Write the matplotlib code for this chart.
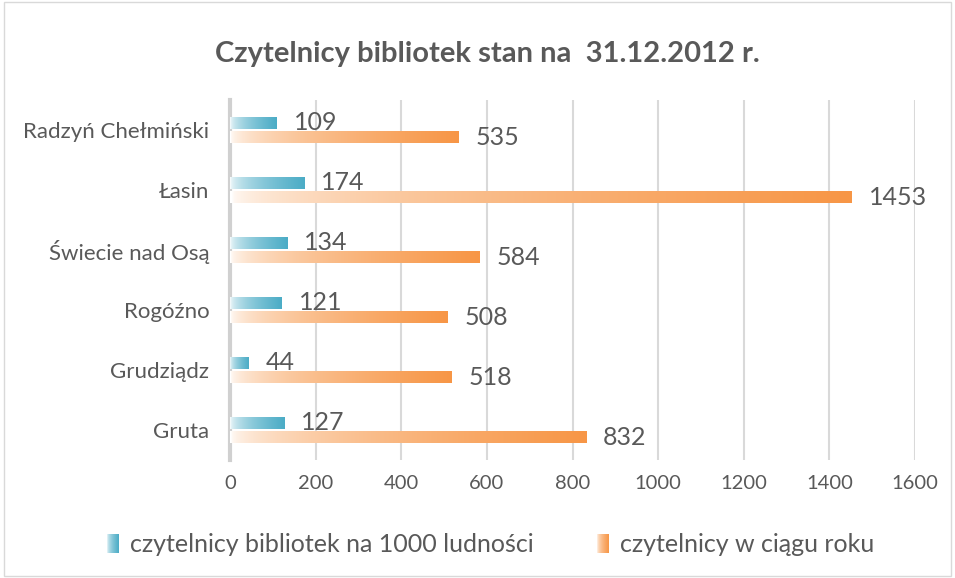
import numpy as np
import matplotlib.pyplot as plt
from matplotlib.patches import Rectangle

# data (bottom to top)
categories = ['Gruta', 'Grudziądz', 'Rogóźno', 'Świecie nad Osą', 'Łasin', 'Radzyń Chełmiński']
na_1000 = [127, 44, 121, 134, 174, 109]
w_roku = [832, 518, 508, 584, 1453, 535]
series_names = ['czytelnicy bibliotek na 1000 ludności', 'czytelnicy w ciągu roku']
xticks = [0, 200, 400, 600, 800, 1000, 1200, 1400, 1600]

teal = np.array([75, 172, 198]) / 255.0
orange = np.array([247, 150, 70]) / 255.0
txt = '#595959'

plt.rcParams['font.family'] = ['Lato', 'DejaVu Sans']


def grad(color, n=200):
    t = np.linspace(0, 1, n) ** 0.5
    rgb = (1 - t)[:, None] * np.ones(3) + t[:, None] * color
    return rgb[None, :, :]


fig = plt.figure(figsize=(9.55, 5.78), dpi=100)
fig.patches.append(Rectangle((0.004, 0.004), 0.992, 0.992, transform=fig.transFigure,
                             fill=False, edgecolor='#D9D9D9', lw=1))
ax = fig.add_axes([0.241, 0.204, 0.717, 0.623])

h = 0.19
off = 0.12
for i in range(len(categories)):
    y1 = i + off
    ax.imshow(grad(teal), extent=(0, na_1000[i], y1 - h / 2, y1 + h / 2),
              aspect='auto', interpolation='bilinear', zorder=3)
    ax.annotate(str(na_1000[i]), (na_1000[i], y1), xytext=(12, 0), textcoords='offset points',
                va='center', ha='left', fontsize=18, color=txt)
    y2 = i - off
    ax.imshow(grad(orange), extent=(0, w_roku[i], y2 - h / 2, y2 + h / 2),
              aspect='auto', interpolation='bilinear', zorder=3)
    ax.annotate(str(w_roku[i]), (w_roku[i], y2), xytext=(12, 0), textcoords='offset points',
                va='center', ha='left', fontsize=18, color=txt)

ax.set_xlim(0, 1600)
ax.set_ylim(-0.5, len(categories) - 0.5)
ax.set_xticks(xticks)
ax.set_yticks(range(len(categories)))
ax.set_yticklabels(categories, fontsize=16)
ax.tick_params(axis='both', length=0, colors=txt)
ax.tick_params(axis='x', pad=11, labelsize=14.5)
ax.tick_params(axis='y', pad=15)
ax.grid(axis='x', color='#D9D9D9', lw=1.5, zorder=0)
ax.set_axisbelow(True)
for s in ['top', 'right', 'bottom']:
    ax.spines[s].set_visible(False)
ax.spines['left'].set_color('#D0D0D0')
ax.spines['left'].set_linewidth(3)

fig.text(0.51, 0.907, 'Czytelnicy bibliotek stan na  31.12.2012 r.', ha='center', va='center',
         fontsize=21, fontweight='bold', color=txt)

# legend drawn by hand with gradient squares
for xs, col, name in [(0.112, teal, series_names[0]), (0.625, orange, series_names[1])]:
    lax = fig.add_axes([xs, 0.043, 0.012, 0.033])
    lax.imshow(grad(col), aspect='auto', extent=(0, 1, 0, 1))
    lax.axis('off')
    fig.text(xs + 0.024, 0.058, name, ha='left', va='center', fontsize=18, color=txt)

fig.savefig('out.png', dpi=100)
